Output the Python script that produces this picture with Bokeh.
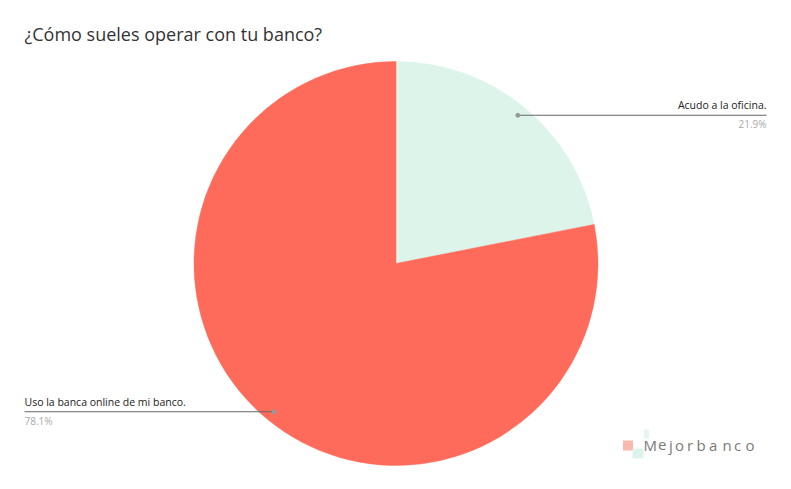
import math
from bokeh.plotting import figure
from bokeh.models import Range1d, ColumnDataSource
from bokeh.core.properties import value
from bokeh.embed import file_html
from bokeh.resources import INLINE

# ---- data ----
title_text = "¿Cómo sueles operar con tu banco?"
categories = ["Acudo a la oficina.", "Uso la banca online de mi banco."]
shares = [21.9, 78.1]
colors = ["#DDF4EA", "#FF6B5A"]
brand = "Mejorbanco"

W, H = 775, 473
p = figure(width=W, height=H, output_backend="svg", toolbar_location=None,
           x_range=Range1d(0, W), y_range=Range1d(H, 0),
           min_border=0, outline_line_color=None)
p.axis.visible = False
p.grid.visible = False
p.background_fill_color = "white"
p.border_fill_color = "white"

cx, cy, r = 395.5, 263, 202
total = sum(shares)

start = []
end = []
mids = []
acc = 0.0
for s in shares:
    a0 = acc / total * 2 * math.pi
    acc += s
    a1 = acc / total * 2 * math.pi
    start.append(math.pi / 2 - a0)
    end.append(math.pi / 2 - a1)
    mids.append((a0 + a1) / 2)

src = ColumnDataSource(dict(start=start, end=end, color=colors))
p.wedge(x=cx, y=cy, radius=r, start_angle="start", end_angle="end",
        direction="clock", fill_color="color", line_color="color",
        line_width=0.5, source=src)

# title
p.text(x=[24], y=[33], text=[title_text], text_font=value("Open Sans"),
       text_font_size="18px", text_color="#333333", text_baseline="middle")

# labels with leader lines
for i, (cat, s) in enumerate(zip(categories, shares)):
    m = mids[i]
    px = cx + 0.95 * r * math.sin(m)
    py = cy - 0.95 * r * math.cos(m)
    if math.sin(m) >= 0:
        x_end = 766
        align = "right"
    else:
        x_end = 24
        align = "left"
    p.line([px, x_end], [py, py], line_color="#666666", line_width=1)
    p.scatter([px], [py], size=4, fill_color="#999999", line_color="#999999")
    p.text(x=[x_end], y=[py - 3], text=[cat], text_font=value("Open Sans"),
           text_font_size="10.5px", text_color="#222222", text_align=align,
           text_baseline="bottom")
    p.text(x=[x_end], y=[py + 2], text=[f"{s}%"], text_font=value("Open Sans"),
           text_font_size="10px", text_color="#aaaaaa", text_align=align,
           text_baseline="top")

# logo
p.rect(x=[646], y=[433.5], width=5, height=9, fill_color="#E6F6EF",
       line_color=None)
p.rect(x=[627.5], y=[445], width=10, height=10, fill_color="#FBB8AE",
       line_color=None)
p.rect(x=[637.5], y=[453], width=11, height=10, fill_color="#DDF4EA",
       line_color=None)
letters = list(brand)
lx = [643, 657.5, 668.5, 674.5, 686.5, 696, 708.5, 722, 733.5, 745]
p.text(x=lx, y=[444] * len(letters), text=letters,
       text_font=value("Open Sans"), text_font_size="15px",
       text_color="#7a7a7a", text_baseline="middle", text_align="left")

open("out.html", "w").write(file_html(p, INLINE))
